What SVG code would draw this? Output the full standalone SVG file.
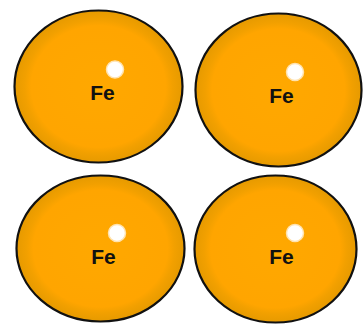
<svg xmlns="http://www.w3.org/2000/svg" width="363" height="324" viewBox="0 0 363 324">
<style>
.atom{fill:url(#g);stroke:#111;stroke-width:2.2}
.hl{fill:#fff;stroke:#ffe3b0;stroke-width:1.5}
.lbl{font-family:"Liberation Sans",Arial,sans-serif;font-weight:bold;font-size:21px;fill:#111;text-anchor:middle}
</style>
<defs>
<radialGradient id="g" cx="0.5" cy="0.5" r="0.5">
<stop offset="0" stop-color="#ffa800"/>
<stop offset="0.8" stop-color="#ffa500"/>
<stop offset="0.88" stop-color="#f2a000"/>
<stop offset="1" stop-color="#e69a00"/>
</radialGradient>
</defs>
<g id="atom1">
<ellipse class="atom" cx="98.5" cy="86.5" rx="84" ry="76"/>
<circle class="hl" cx="115" cy="69.5" r="8.5"/>
<text class="lbl" x="102.5" y="100">Fe</text>
</g>
<g id="atom2">
<ellipse class="atom" cx="278.5" cy="90" rx="83" ry="76.5"/>
<circle class="hl" cx="295" cy="72" r="8.5"/>
<text class="lbl" x="281.5" y="103">Fe</text>
</g>
<g id="atom3">
<ellipse class="atom" cx="100.5" cy="248.5" rx="84" ry="73"/>
<circle class="hl" cx="117" cy="233" r="8.5"/>
<text class="lbl" x="103.5" y="264">Fe</text>
</g>
<g id="atom4">
<ellipse class="atom" cx="275.5" cy="249" rx="81" ry="73.5"/>
<circle class="hl" cx="295" cy="233" r="8.5"/>
<text class="lbl" x="281.5" y="264">Fe</text>
</g>
</svg>
